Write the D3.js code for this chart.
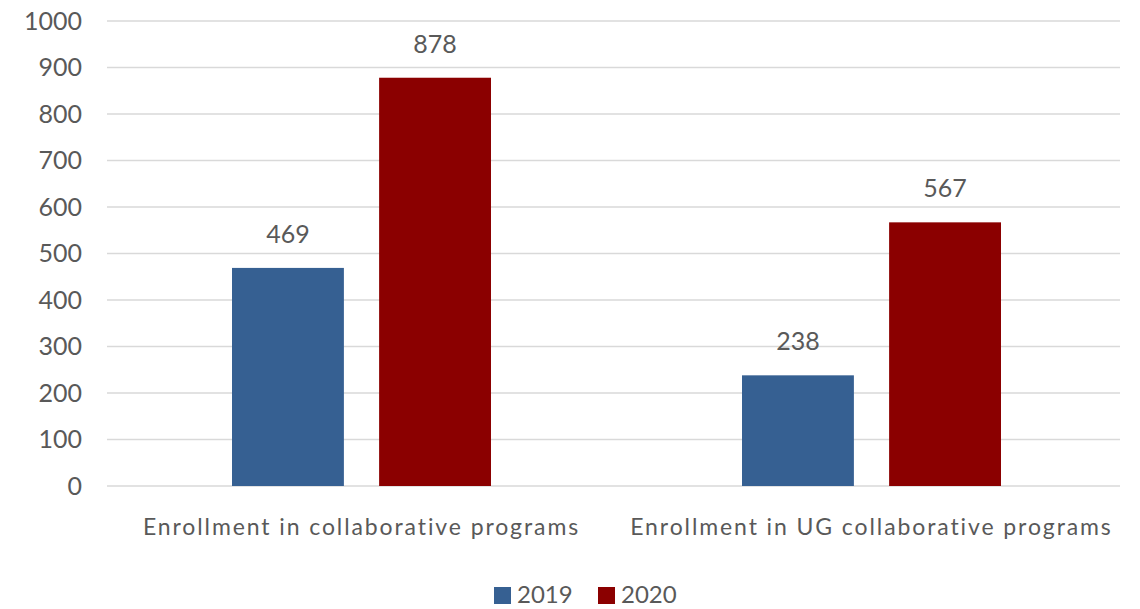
<!DOCTYPE html>
<html><head><meta charset="utf-8">
<script src="https://cdn.jsdelivr.net/npm/d3@7"></script>
<style>body{margin:0;background:#fff}text{font-family:Lato,"Open Sans",sans-serif;fill:#595959}</style>
</head><body><svg id="c" width="1140" height="609"></svg>
<script>
const categories = ["Enrollment in collaborative programs", "Enrollment in UG collaborative programs"];
const seriesNames = ["2019", "2020"];
const values2019 = [469, 238];
const values2020 = [878, 567];
const yTicks = [0, 100, 200, 300, 400, 500, 600, 700, 800, 900, 1000];
const colors = ["#366092", "#8B0000"];

(function () {
const svg = d3.select("#c");
const gridLeft = 107, gridRight = 1120, mTop = 21, mBottom = 486;
const x0 = d3.scaleBand().domain(categories).range([106.5, 1126.5]).paddingInner(0).paddingOuter(0);
const y = d3.scaleLinear().domain([0, 1000]).range([mBottom, mTop]);
const data = categories.map((c, i) => ({cat: c, vals: [values2019[i], values2020[i]]}));

svg.append("g").selectAll("line").data(yTicks).join("line")
  .attr("x1", gridLeft).attr("x2", gridRight)
  .attr("y1", d => y(d)).attr("y2", d => y(d))
  .attr("stroke", "#d9d9d9").attr("stroke-width", 1.5);

const yAxis = d3.axisLeft(y).tickValues(yTicks).tickFormat(d3.format("d")).tickSize(0).tickPadding(0);
const ga = svg.append("g").attr("transform", `translate(82,0)`).call(yAxis);
ga.select(".domain").remove();
ga.selectAll("text").style("font-size", "25px").attr("fill", "#595959").attr("font-family", "Lato");

const barW = 114, gap = 31;
const groupW = barW * 2 + gap;
const x1 = d3.scaleBand().domain(seriesNames).range([0, groupW]).paddingInner(gap / (groupW / 2)).paddingOuter(0);
const g = svg.append("g").selectAll("g").data(data).join("g")
  .attr("transform", d => `translate(${x0(d.cat) + x0.bandwidth() / 2 - groupW / 2},0)`);
g.selectAll("rect").data(d => d.vals.map((v, i) => ({s: seriesNames[i], v, i}))).join("rect")
  .attr("x", d => x1(d.s)).attr("width", x1.bandwidth())
  .attr("y", d => y(d.v)).attr("height", d => y(0) - y(d.v))
  .attr("fill", d => colors[d.i]);
g.selectAll("text.lab").data(d => d.vals.map((v, i) => ({s: seriesNames[i], v, i}))).join("text")
  .attr("class", "lab")
  .attr("x", d => x1(d.s) + x1.bandwidth() / 2).attr("y", d => y(d.v) - 25)
  .attr("text-anchor", "middle").style("font-size", "25px").text(d => d.v);

svg.append("g").selectAll("text").data(categories).join("text")
  .attr("x", d => x0(d) + x0.bandwidth() / 2).attr("y", 535)
  .attr("text-anchor", "middle").style("font-size", "23px").style("letter-spacing", "1.9px").text(d => d);

const leg = svg.append("g");
const legX = [494, 598];
seriesNames.forEach((s, i) => {
  leg.append("rect").attr("x", legX[i]).attr("y", 587).attr("width", 17).attr("height", 17).attr("fill", colors[i]);
  leg.append("text").attr("x", legX[i] + 23).attr("y", 603).style("font-size", "24px").text(s);
});
})();
</script></body></html>
